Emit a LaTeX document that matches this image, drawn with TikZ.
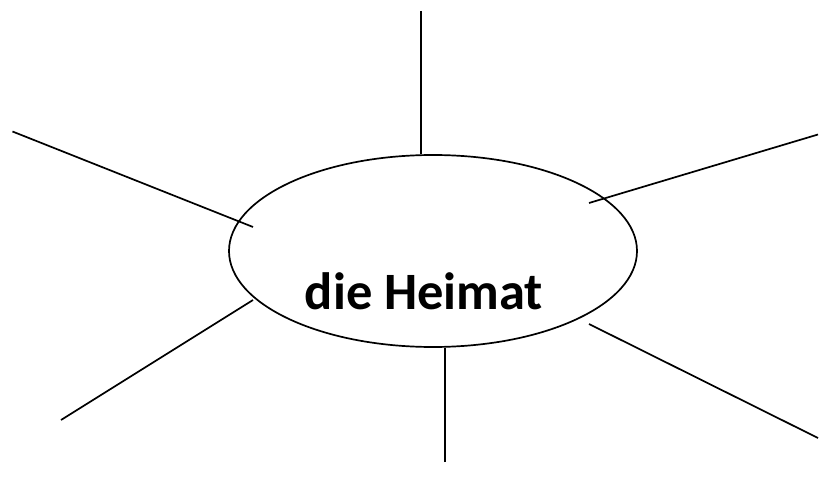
\documentclass[tikz,border=0pt]{standalone}
\usepackage{fontspec}
\setmainfont{Carlito}
\usetikzlibrary{shapes.geometric}

\begin{document}
\begin{tikzpicture}[x=1pt,y=-1pt,line width=1.7pt,
                    hub/.style={ellipse,draw,minimum width=408pt,minimum height=192pt,inner sep=0pt},
                    title/.style={anchor=base,font=\fontsize{52.5}{60}\selectfont\bfseries}]
  \useasboundingbox (0,0) rectangle (819,489);

  \node[hub] (heimat) at (433,251) {};
  \node[title] (name) at (424,309) {die Heimat};

  % free ends
  \coordinate (top) at (421,11);
  \coordinate (upleft) at (12.5,131.5);
  \coordinate (upright) at (818,134.5);
  \coordinate (lowleft) at (61,420);
  \coordinate (bottom) at (445,462);
  \coordinate (lowright) at (818,438);

  % ends at the ellipse
  \coordinate (upleft in) at (253,227);
  \coordinate (upright in) at (589,203);
  \coordinate (lowleft in) at (253,300);
  \coordinate (lowright in) at (589,324);

  \draw (top) -- (heimat.north -| top);
  \draw (bottom) -- (heimat.south -| bottom);
  \draw (upleft) -- (upleft in);
  \draw (upright) -- (upright in);
  \draw (lowleft) -- (lowleft in);
  \draw (lowright) -- (lowright in);
\end{tikzpicture}
\end{document}
